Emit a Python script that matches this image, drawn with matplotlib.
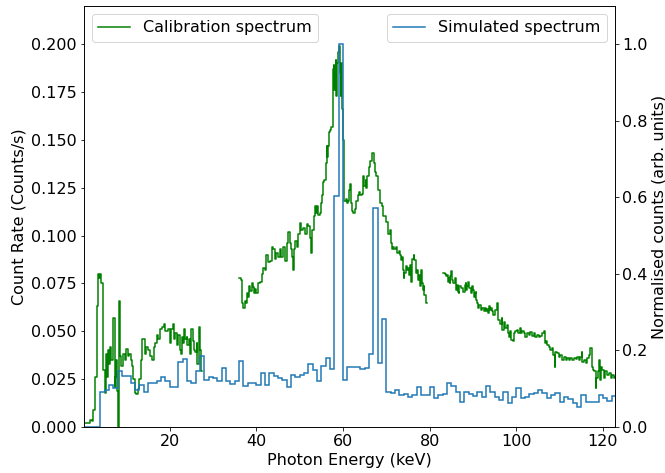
import numpy as np
import matplotlib
matplotlib.use("Agg")
import matplotlib.pyplot as plt

# ---------------- data ----------------
# Simulated spectrum: 1 keV bins, edges 0..123 keV (normalised counts)
sim_edges = np.arange(0, 124, 1)
sim_counts = [
    0, 0, 0, 0, 0.091, 0.097, 0.110, 0.103, 0.147, 0.132,
    0.132, 0.114, 0.097, 0.110, 0.092, 0.114, 0.114, 0.119, 0.130, 0.120,
    0.104, 0.104, 0.171, 0.177, 0.121, 0.116, 0.147, 0.186, 0.123, 0.130,
    0.128, 0.119, 0.155, 0.119, 0.112, 0.120, 0.172, 0.107, 0.114, 0.114,
    0.110, 0.140, 0.110, 0.140, 0.132, 0.127, 0.123, 0.104, 0.136, 0.130,
    0.136, 0.140, 0.165, 0.150, 0.120, 0.160, 0.180, 0.151, 0.603, 1.000,
    0.123, 0.157, 0.157, 0.157, 0.151, 0.155, 0.191, 0.572, 0.168, 0.282,
    0.092, 0.088, 0.097, 0.084, 0.086, 0.079, 0.084, 0.104, 0.084, 0.084,
    0.104, 0.075, 0.084, 0.086, 0.114, 0.106, 0.092, 0.066, 0.092, 0.086,
    0.081, 0.092, 0.079, 0.107, 0.092, 0.079, 0.071, 0.092, 0.062, 0.079,
    0.101, 0.075, 0.079, 0.086, 0.090, 0.097, 0.088, 0.075, 0.084, 0.090,
    0.066, 0.079, 0.072, 0.062, 0.053, 0.084, 0.064, 0.064, 0.066, 0.084,
    0.075, 0.068, 0.081,
]

# Calibration spectrum (count rate, counts/s); NaN marks gaps
nan = np.nan
cal_energy = [
    0.0, 0.6, 1.3, 1.6, 2.0, 2.4, 2.8, 3.2, 3.4, 3.7, 4.0, 4.2, 4.5, 4.7, 4.95,
    5.3, 5.5, 5.7, 6.0, 6.3, 6.5, 6.8, 7.0, 7.3, 7.4, 7.6, 7.9, 8.0, 8.3, 8.6,
    8.8, 9.1, 9.6, 9.9, 10.3, 10.6, 11.1, 11.4, 11.6, 12.0, 12.3, 12.6, 12.9,
    13.4, 13.7, 14.2, 14.5, 14.9, 15.5, 15.9, 16.3, 16.6, 17.0, 17.4, 17.8,
    18.2, 18.6, 19.0, 19.3, 19.6, 20.0, 20.4, 20.8, 21.0, 21.3, 21.6, 21.9,
    22.3, 22.6, 22.9, 23.1, 23.3, 23.6, 23.9, 24.1, 24.4, 24.6, 25.0, 25.4,
    25.6, 25.9, 26.2, 26.4, 26.7, 27.0, 27.2, 27.4,
    36.0, 36.4, 36.7, 37.0, 37.3, 37.6, 37.9, 38.1, 38.3, 38.6, 38.9, 39.3,
    39.4, 39.6, 40.0, 40.4, 40.8, 41.2, 41.6, 42.0, 42.3, 42.7, 43.1, 43.5,
    43.9, 44.3, 44.6, 45.0, 45.4, 45.8, 46.2, 46.6, 47.0, 47.3, 47.7, 48.1,
    48.3, 48.5, 48.7, 49.0, 49.3, 49.6, 50.0, 50.4, 50.8, 51.2, 51.6, 52.0,
    52.3, 52.6, 52.9, 53.3, 53.5, 53.7, 54.0, 54.3, 54.6, 54.9, 55.1, 55.4,
    55.7, 56.0, 56.2, 56.4, 56.6, 56.8, 57.1, 57.3, 57.6, 57.7, 57.9, 58.0,
    58.2, 58.3, 58.5, 58.6, 58.9, 59.1, 59.3, 59.4, 59.5, 59.6, 59.8, 60.0,
    60.2, 60.3, 60.6, 60.9, 61.2, 61.4, 61.6, 61.8, 62.0, 62.3, 62.7, 63.1,
    63.5, 63.7, 64.0, 64.3, 64.6, 64.9, 65.2, 65.4, 65.6, 65.9, 66.2, 66.6,
    66.8, 67.1, 67.3, 67.7, 68.1, 68.5, 68.9, 69.3, 69.6, 70.0, 70.3, 70.5,
    70.8, 71.0, 71.3, 71.6, 71.8, 72.2, 72.5, 72.9, 73.1, 73.5, 73.7, 73.8,
    74.0, 74.2, 74.5, 74.8, 75.0, 75.2, 75.4, 75.6, 76.0, 76.3, 76.5, 76.8,
    77.1, 77.3, 77.5, 77.7, 77.9, 78.2, 78.3, 78.5, 78.6, 78.8, 79.1, 79.2,
    79.3,
    83.1, 83.5, 83.7, 84.0, 84.2, 84.5, 84.6, 84.8, 85.0, 85.2, 85.4, 85.5,
    85.8, 86.0, 86.3, 86.5, 86.8, 86.9, 87.3, 87.7, 88.1, 88.3, 88.5, 88.7,
    88.9, 89.2, 89.5, 89.7, 90.0, 90.2, 90.4, 90.6, 90.8, 91.0, 91.2, 91.5,
    91.8, 92.2, 92.5, 92.8, 93.0, 93.2, 93.4, 93.7, 94.0, 94.2, 94.5, 94.7,
    95.1, 95.5, 95.9, 96.3, 96.7, 96.8, 97.1, 97.5, 97.8, 98.1, 98.4, 98.6,
    98.8, 99.2, 99.4, 99.8, 100.2, 100.5, 100.9, 101.2, 101.3, 101.7, 102.1,
    102.5, 102.9, 103.2, 103.6, 104.0, 104.4, 104.8, 105.2, 105.6, 105.9,
    106.3, 106.6, 106.9, 107.2, 107.5, 107.9, 108.3, 108.6, 108.9, 109.0,
    109.4, 109.8, 110.2, 110.6, 111.0, 111.4, 111.7, 112.1, 112.5, 112.9,
    113.3, 113.7, 114.1, 114.4, 114.8, 115.1, 115.2, 115.6, 116.0, 116.4,
    116.8, 117.1, 117.4, 117.7, 118.0, 118.3, 118.5, 118.8, 119.1, 119.3,
    119.5, 119.8, 120.2, 120.6, 121.0, 121.4, 121.8, 122.2, 122.5, 122.9,
]
cal_rate = [
    0.002, 0.002, 0.002, 0.0035, 0.003, 0.009, 0.026, 0.063, 0.080, 0.078, 0.080, 0.075, 0.058, 0.030, 0.0176,
    0.038, 0.026, 0.040, 0.033, 0.042, 0.035, 0.040, 0.057, 0.021, 0.026, 0.035, 0.019, 0.0, 0.066, 0.037,
    0.032, 0.038, 0.035, 0.041, 0.037, 0.038, 0.035, 0.032, 0.025, 0.018, 0.017, 0.020, 0.025,
    0.035, 0.046, 0.038, 0.042, 0.040, 0.037, 0.035, 0.042, 0.044, 0.048, 0.046, 0.051,
    0.052, 0.054, 0.050, 0.050, 0.051, 0.044, 0.051, 0.054, 0.046, 0.049, 0.043, 0.048,
    0.040, 0.038, 0.047, 0.044, 0.051, 0.046, 0.047, 0.043, 0.046, 0.038, 0.051, 0.045,
    0.040, 0.039, 0.044, 0.033, 0.052, 0.040, 0.029, nan,
    0.078, 0.077, 0.065, 0.062, 0.066, 0.065, 0.070, 0.068, 0.0735, 0.071, 0.075, 0.073,
    0.070, 0.072, 0.070, 0.075, 0.076, 0.080, 0.083, 0.082, 0.0897, 0.086, 0.087, 0.094,
    0.093, 0.088, 0.091, 0.089, 0.093, 0.089, 0.094, 0.087, 0.096, 0.102, 0.096, 0.093,
    0.089, 0.082, 0.093, 0.097, 0.094, 0.101, 0.1066, 0.103, 0.104, 0.101, 0.106, 0.105,
    0.099, 0.091, 0.103, 0.110, 0.1156, 0.112, 0.1156, 0.111, 0.112, 0.117, 0.121, 0.128,
    0.129, 0.138, 0.147, 0.141, 0.147, 0.154, 0.155, 0.157, 0.173, 0.187, 0.189, 0.176,
    0.187, 0.192, 0.173, 0.190, 0.196, 0.199, 0.197, 0.185, 0.173, 0.190, 0.166, 0.150,
    0.126, 0.118, 0.119, 0.117, 0.118, 0.124, 0.127, 0.117, 0.113, 0.112, 0.114, 0.118,
    0.121, 0.123, 0.121, 0.122, 0.131, 0.126, 0.129, 0.125, 0.131, 0.136, 0.139, 0.142,
    0.143, 0.138, 0.133, 0.131, 0.124, 0.117, 0.1155, 0.110, 0.110, 0.107, 0.105, 0.101,
    0.103, 0.096, 0.093, 0.094, 0.093, 0.094, 0.091, 0.092, 0.090, 0.0874, 0.089, 0.0822,
    0.0778, 0.0805, 0.0839, 0.0822, 0.0831, 0.0796, 0.0848, 0.076, 0.088, 0.090, 0.0874, 0.0805,
    0.0822, 0.077, 0.0796, 0.0735, 0.0822, 0.0787, 0.075, 0.0717, 0.0735, 0.069, 0.0665, 0.065,
    nan,
    0.0805, 0.080, 0.0787, 0.0796, 0.076, 0.0778, 0.075, 0.0787, 0.0813, 0.077, 0.076, 0.075,
    0.0778, 0.0717, 0.0743, 0.0708, 0.070, 0.0735, 0.0726, 0.0708, 0.0743, 0.075, 0.0717, 0.0735,
    0.076, 0.0726, 0.070, 0.0735, 0.0717, 0.068, 0.070, 0.0708, 0.0665, 0.0647, 0.062, 0.0639,
    0.0613, 0.062, 0.0604, 0.062, 0.0604, 0.0616, 0.0595, 0.063, 0.0613, 0.0621, 0.0604, 0.0586,
    0.0613, 0.0647, 0.056, 0.054, 0.057, 0.0508, 0.055, 0.0516, 0.0534, 0.049, 0.047, 0.050,
    0.0455, 0.0447, 0.049, 0.050, 0.0508, 0.049, 0.0516, 0.049, 0.050, 0.049, 0.047,
    0.049, 0.048, 0.0495, 0.0476, 0.049, 0.047, 0.048, 0.0469, 0.0476, 0.049,
    0.050, 0.0438, 0.0447, 0.043, 0.042, 0.0403, 0.0412, 0.0377, 0.0316, 0.0394,
    0.0386, 0.0368, 0.0377, 0.0351, 0.0368, 0.0351, 0.036, 0.0351, 0.036, 0.0351,
    0.036, 0.0354, 0.0364, 0.0351, 0.0368, 0.0394, 0.0342, 0.0351, 0.0333, 0.036,
    0.0377, 0.0412, 0.0316, 0.0298, 0.029, 0.0202, 0.0255, 0.029, 0.0351, 0.0246,
    0.0316, 0.0298, 0.0255, 0.029, 0.0272, 0.028, 0.0255, 0.0272, 0.0255, 0.0263,
]

left_ticks = [0.000, 0.025, 0.050, 0.075, 0.100, 0.125, 0.150, 0.175, 0.200]
right_ticks = [0.0, 0.2, 0.4, 0.6, 0.8, 1.0]
x_ticks = [20, 40, 60, 80, 100, 120]

# ---------------- plot ----------------
plt.rcParams['font.family'] = ['DejaVu Sans']
plt.rcParams['font.size'] = 16
DPI = 72
fig = plt.figure(figsize=(665 / DPI, 473 / DPI), dpi=DPI)
ax1 = fig.add_axes([0.1256, 0.0973, 0.7992, 0.8900])
ax2 = ax1.twinx()

ax1.plot(cal_energy, cal_rate, drawstyle='steps-post', color='green',
         linewidth=1.5, label='Calibration spectrum')
ax2.stairs(sim_counts, sim_edges, color='#1f77b4', linewidth=1.5,
           label='Simulated spectrum')

ax1.set_xlim(0.1, 122.8)
ax1.set_ylim(0, 0.22)
ax2.set_ylim(0, 1.1)
ax1.set_xticks(x_ticks)
ax1.set_yticks(left_ticks)
ax1.set_yticklabels([f"{t:.3f}" for t in left_ticks])
ax2.set_yticks(right_ticks)
ax2.set_yticklabels([f"{t:.1f}" for t in right_ticks])

ax1.tick_params(labelsize=16)
ax2.tick_params(labelsize=16)
ax1.set_xlabel('Photon Energy (keV)', fontsize=16)
ax1.set_ylabel('Count Rate (Counts/s)', fontsize=16)
ax2.set_ylabel('Normalised counts (arb. units)', fontsize=16)

ax1.legend(loc='upper left', fontsize=16)
ax2.legend(loc='upper right', fontsize=16)

fig.savefig('out.png', dpi=DPI)
